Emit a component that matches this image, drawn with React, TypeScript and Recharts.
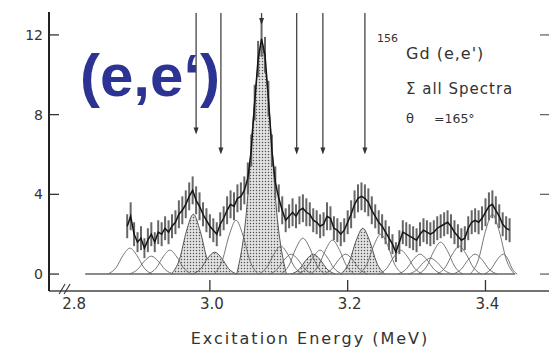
import React from 'react';
import {
  ComposedChart,
  Line,
  Area,
  XAxis,
  YAxis,
  ErrorBar,
  ReferenceLine,
} from 'recharts';

// measured spectrum (sum of all spectra), counts vs excitation energy in MeV
const spectrumE = [
  2.88, 2.885, 2.89, 2.895, 2.9, 2.905, 2.91, 2.915, 2.92, 2.925,
  2.93, 2.935, 2.94, 2.945, 2.95, 2.955, 2.96, 2.965, 2.97, 2.975,
  2.98, 2.985, 2.99, 2.995, 3.0, 3.005, 3.01, 3.015, 3.02, 3.025,
  3.03, 3.035, 3.04, 3.045, 3.05, 3.055, 3.06, 3.065, 3.07, 3.075,
  3.08, 3.085, 3.09, 3.095, 3.1, 3.105, 3.11, 3.115, 3.12, 3.125,
  3.13, 3.135, 3.14, 3.145, 3.15, 3.155, 3.16, 3.165, 3.17, 3.175,
  3.18, 3.185, 3.19, 3.195, 3.2, 3.205, 3.21, 3.215, 3.22, 3.225,
  3.23, 3.235, 3.24, 3.245, 3.25, 3.255, 3.26, 3.265, 3.27, 3.275,
  3.28, 3.285, 3.29, 3.295, 3.3, 3.305, 3.31, 3.315, 3.32, 3.325,
  3.33, 3.335, 3.34, 3.345, 3.35, 3.355, 3.36, 3.365, 3.37, 3.375,
  3.38, 3.385, 3.39, 3.395, 3.4, 3.405, 3.41, 3.415, 3.42, 3.425,
  3.43, 3.435,
];
const spectrumCounts = [
  2.4, 2.9, 2.0, 1.6, 1.8, 1.3, 1.7, 2.0, 1.6, 2.1,
  2.0, 2.3, 2.1, 2.4, 2.6, 3.0, 3.2, 3.5, 3.9, 4.2,
  3.7, 3.4, 3.0, 2.7, 2.4, 2.2, 2.0, 2.5, 2.8, 3.2,
  3.5, 3.4, 3.8, 3.9, 4.2, 4.8, 6.2, 8.6, 10.8, 11.8,
  11.0, 8.8, 6.2, 4.6, 3.8, 3.2, 2.7, 2.9, 3.1, 2.9,
  3.2, 3.3, 3.1, 3.0, 2.7, 2.6, 2.4, 2.5, 2.9, 2.8,
  2.3, 2.2, 2.0, 2.2, 2.6, 3.0, 3.5, 3.8, 3.9, 3.8,
  3.6, 3.2, 2.9, 2.6, 2.4, 2.1, 1.8, 1.5, 1.1, 1.6,
  2.1, 2.0, 1.9, 1.8, 1.7, 2.0, 2.2, 2.1, 2.0, 2.1,
  2.3, 2.4, 2.5, 2.6, 2.4, 2.1, 1.9, 1.7, 1.8, 2.3,
  2.6, 2.7, 2.6, 2.8, 3.1, 3.4, 3.5, 3.2, 2.9, 2.5,
  2.3, 2.2,
];
const spectrumErr = [
  0.6, 0.7, 0.6, 0.5, 0.6, 0.5, 0.6, 0.6, 0.5, 0.6,
  0.6, 0.6, 0.6, 0.6, 0.6, 0.7, 0.7, 0.7, 0.7, 0.7,
  0.7, 0.7, 0.6, 0.6, 0.6, 0.6, 0.6, 0.6, 0.6, 0.7,
  0.7, 0.7, 0.7, 0.7, 0.7, 0.8, 0.8, 0.9, 0.9, 0.9,
  0.9, 0.9, 0.8, 0.8, 0.7, 0.7, 0.6, 0.6, 0.7, 0.6,
  0.7, 0.7, 0.7, 0.6, 0.6, 0.6, 0.6, 0.6, 0.7, 0.6,
  0.6, 0.6, 0.6, 0.6, 0.6, 0.7, 0.7, 0.7, 0.7, 0.7,
  0.7, 0.7, 0.6, 0.6, 0.6, 0.6, 0.6, 0.5, 0.5, 0.6,
  0.6, 0.6, 0.6, 0.6, 0.6, 0.6, 0.6, 0.6, 0.6, 0.6,
  0.6, 0.6, 0.6, 0.6, 0.6, 0.6, 0.6, 0.6, 0.6, 0.6,
  0.6, 0.6, 0.6, 0.6, 0.7, 0.7, 0.7, 0.7, 0.6, 0.6,
  0.6, 0.6,
];

// fitted line shapes, stippled ones
const hatchedE = [
  [2.944, 2.956, 2.966, 2.976, 2.986, 2.996, 3.008],
  [2.975, 2.987, 2.997, 3.007, 3.017, 3.027, 3.039],
  [3.039, 3.053, 3.064, 3.075, 3.086, 3.097, 3.111],
  [3.118, 3.13, 3.14, 3.15, 3.16, 3.17, 3.182],
  [3.19, 3.202, 3.212, 3.222, 3.232, 3.242, 3.254],
];
const hatchedY = [
  [0, 0.75, 2.15, 3.0, 2.15, 0.75, 0],
  [0, 0.28, 0.8, 1.1, 0.8, 0.28, 0],
  [0, 3.1, 8.3, 11.5, 8.3, 3.1, 0],
  [0, 0.25, 0.72, 1.0, 0.72, 0.25, 0],
  [0, 0.58, 1.65, 2.3, 1.65, 0.58, 0],
];

// fitted line shapes, open ones
const openE = [
  [2.852, 2.864, 2.874, 2.884, 2.894, 2.904, 2.916],
  [2.883, 2.895, 2.905, 2.915, 2.925, 2.935, 2.947],
  [2.91, 2.922, 2.932, 2.942, 2.952, 2.962, 2.974],
  [3.006, 3.018, 3.028, 3.038, 3.048, 3.058, 3.07],
  [3.071, 3.083, 3.093, 3.103, 3.113, 3.123, 3.135],
  [3.086, 3.098, 3.108, 3.118, 3.128, 3.138, 3.15],
  [3.103, 3.115, 3.125, 3.135, 3.145, 3.155, 3.167],
  [3.128, 3.14, 3.15, 3.16, 3.17, 3.18, 3.192],
  [3.146, 3.158, 3.168, 3.178, 3.188, 3.198, 3.21],
  [3.165, 3.177, 3.187, 3.197, 3.207, 3.217, 3.229],
  [3.216, 3.228, 3.238, 3.248, 3.258, 3.268, 3.28],
  [3.245, 3.257, 3.267, 3.277, 3.287, 3.297, 3.309],
  [3.273, 3.285, 3.295, 3.305, 3.315, 3.325, 3.337],
  [3.288, 3.3, 3.31, 3.32, 3.33, 3.34, 3.352],
  [3.303, 3.315, 3.325, 3.335, 3.345, 3.355, 3.367],
  [3.33, 3.342, 3.352, 3.362, 3.372, 3.382, 3.394],
  [3.353, 3.365, 3.375, 3.385, 3.395, 3.405, 3.417],
  [3.378, 3.39, 3.4, 3.41, 3.42, 3.43, 3.442],
  [3.398, 3.408, 3.417, 3.426, 3.433, 3.439, 3.446],
];
const openY = [
  [0, 0.33, 0.94, 1.3, 0.94, 0.33, 0],
  [0, 0.23, 0.65, 0.9, 0.65, 0.23, 0],
  [0, 0.3, 0.86, 1.2, 0.86, 0.3, 0],
  [0, 0.68, 1.95, 2.7, 1.95, 0.68, 0],
  [0, 0.35, 1.0, 1.4, 1.0, 0.35, 0],
  [0, 0.25, 0.72, 1.0, 0.72, 0.25, 0],
  [0, 0.45, 1.3, 1.8, 1.3, 0.45, 0],
  [0, 0.3, 0.86, 1.2, 0.86, 0.3, 0],
  [0, 0.43, 1.22, 1.7, 1.22, 0.43, 0],
  [0, 0.25, 0.72, 1.0, 0.72, 0.25, 0],
  [0, 0.5, 1.44, 2.0, 1.44, 0.5, 0],
  [0, 0.3, 0.86, 1.2, 0.86, 0.3, 0],
  [0, 0.25, 0.72, 1.0, 0.72, 0.25, 0],
  [0, 0.2, 0.58, 0.8, 0.58, 0.2, 0],
  [0, 0.4, 1.15, 1.6, 1.15, 0.4, 0],
  [0, 0.35, 1.0, 1.4, 1.0, 0.35, 0],
  [0, 0.25, 0.72, 1.0, 0.72, 0.25, 0],
  [0, 0.75, 2.15, 3.0, 2.15, 0.75, 0],
  [0, 0.25, 0.72, 1.0, 0.72, 0.25, 0],
];

// arrows marking the identified states
const arrowE = [2.98, 3.016, 3.075, 3.126, 3.164, 3.225];
const arrowTip = [7.0, 6.0, 12.5, 6.0, 6.0, 6.0];
const arrowTop = 13.1;

const baselineE = [2.819, 3.443];

const xTicks = [2.8, 3.0, 3.2, 3.4];
const yTicks = [0, 4, 8, 12];

const FONT = '"DejaVu Sans", sans-serif';
const INK = '#333';

const spectrum = spectrumE.map((e, i) => ({
  e,
  c: spectrumCounts[i],
  err: spectrumErr[i],
}));
const hatched = hatchedE.map((es, i) => es.map((e, j) => ({ e, y: hatchedY[i][j] })));
const open = openE.map((es, i) => es.map((e, j) => ({ e, y: openY[i][j] })));

function YTick(props: any) {
  const { x, y, payload } = props;
  return (
    <g>
      <line x1={x + 6} x2={x + 16} y1={y} y2={y} stroke={INK} strokeWidth={1.3} />
      <line x1={540} x2={549} y1={y} y2={y} stroke="#666" strokeWidth={1.3} />
      <text x={x} y={y} dy="0.36em" textAnchor="end" fill={INK} fontSize={14} fontFamily={FONT}>
        {payload.value}
      </text>
    </g>
  );
}

function XTick(props: any) {
  const { x, y, payload } = props;
  return (
    <g>
      {payload.value === 2.8 ? (
        <g stroke={INK} strokeWidth={1.1}>
          <line x1={x - 13} y1={y + 3} x2={x - 7} y2={y - 7} />
          <line x1={x - 8} y1={y + 3} x2={x - 2} y2={y - 7} />
        </g>
      ) : (
        <line x1={x} x2={x} y1={y - 11} y2={y} stroke={INK} strokeWidth={1.3} />
      )}
      <text x={x + 2} y={y + 18} textAnchor="middle" fill={INK} fontSize={15} fontFamily={FONT}>
        {payload.value.toFixed(1)}
      </text>
    </g>
  );
}

function Arrow(props: any) {
  const { x1, y1, x2, y2 } = props;
  return (
    <g>
      <line x1={x1} y1={y1} x2={x2} y2={y2 - 4} stroke="#444" strokeWidth={1.3} />
      <path d={`M${x2 - 2.5},${y2 - 7} L${x2 + 2.5},${y2 - 7} L${x2},${y2} Z`} fill="#333" />
    </g>
  );
}

export default function App() {
  return (
    <div style={{ position: 'absolute', left: 0, top: 0, background: '#fff' }}>
      <ComposedChart width={549} height={350} margin={{ top: 12, right: 0, left: 0, bottom: 0 }}>
        <defs>
          <pattern id="stipple" width="3" height="3" patternUnits="userSpaceOnUse">
            <rect width="3" height="3" fill="#e2e2e2" />
            <circle cx="1.5" cy="1.5" r="0.75" fill="#555" />
          </pattern>
        </defs>
        <XAxis
          type="number"
          dataKey="e"
          domain={[2.7665, 3.4922]}
          allowDataOverflow
          ticks={xTicks}
          interval={0}
          height={59}
          tickSize={0}
          tickMargin={0}
          tickLine={false}
          tick={XTick}
          axisLine={{ stroke: '#444', strokeWidth: 1.5 }}
        />
        <YAxis
          type="number"
          dataKey="y"
          domain={[-0.85, 13.15]}
          allowDataOverflow
          ticks={yTicks}
          interval={0}
          width={49}
          tickSize={0}
          tickMargin={6}
          tickLine={false}
          tick={YTick}
          axisLine={{ stroke: '#222', strokeWidth: 2 }}
        />
        <ReferenceLine
          segment={[{ x: baselineE[0], y: 0 }, { x: baselineE[1], y: 0 }]}
          stroke="#666"
          strokeWidth={1.5}
        />
        {open.map((d, i) => (
          <Line
            key={`o${i}`}
            data={d}
            dataKey="y"
            type="monotone"
            stroke="#666"
            strokeWidth={0.9}
            dot={false}
            isAnimationActive={false}
          />
        ))}
        {hatched.map((d, i) => (
          <Area
            key={`h${i}`}
            data={d}
            dataKey="y"
            type="monotone"
            stroke="#555"
            strokeWidth={1}
            fill="url(#stipple)"
            fillOpacity={1}
            dot={false}
            isAnimationActive={false}
          />
        ))}
        <Line
          data={spectrum}
          dataKey="c"
          type="linear"
          stroke="#151515"
          strokeWidth={1.5}
          dot={false}
          isAnimationActive={false}
        >
          <ErrorBar dataKey="err" direction="y" width={0} stroke="#666" strokeWidth={2} />
        </Line>
        {arrowE.map((e, i) => (
          <ReferenceLine
            key={`a${i}`}
            segment={[{ x: e, y: arrowTop }, { x: e, y: arrowTip[i] }]}
            shape={Arrow}
            ifOverflow="visible"
          />
        ))}
        <text x={80} y={96} fill="#2d3393" fontSize={60} fontWeight="bold" fontFamily='"Liberation Sans", Arial, sans-serif'>
          (e,e‘)
        </text>
        <text x={377} y={42} fill={INK} fontSize={11} fontFamily={FONT}>156</text>
        <text x={406} y={59} fill={INK} fontSize={16} letterSpacing={1} fontFamily={FONT}>Gd (e,e')</text>
        <text x={406} y={94} fill={INK} fontSize={15} letterSpacing={1} fontFamily={FONT}>Σ all Spectra</text>
        <text x={406} y={123} fill={INK} fontSize={13} fontFamily={FONT}>θ</text>
        <text x={434} y={123} fill={INK} fontSize={12.5} fontFamily={FONT}>=165°</text>
        <text x={310} y={344} textAnchor="middle" fill={INK} fontSize={16} letterSpacing={2} fontFamily={FONT}>
          Excitation Energy (MeV)
        </text>
      </ComposedChart>
    </div>
  );
}
